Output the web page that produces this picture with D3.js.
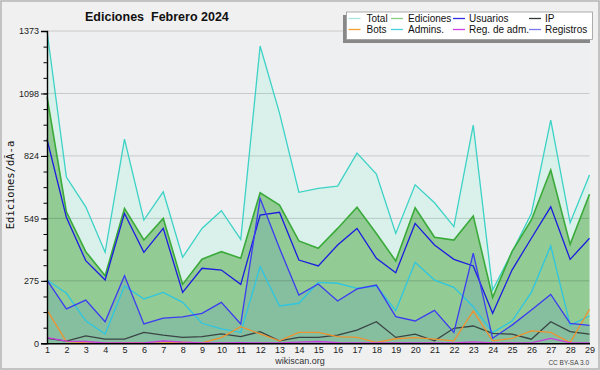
<!DOCTYPE html>
<html>
<head>
<meta charset="utf-8">
<script src="https://cdn.jsdelivr.net/npm/d3@7"></script>
<style>
  body { margin: 0; background: #f0f0f0; }
  text { font-family: "Liberation Sans", Arial, sans-serif; }
</style>
</head>
<body>
<div id="chart"></div>
<script>
// values
const days = [1, 2, 3, 4, 5, 6, 7, 8, 9, 10, 11, 12, 13, 14, 15, 16, 17, 18, 19, 20, 21, 22, 23, 24, 25, 26, 27, 28, 29];
const total = [1373, 731, 600, 400, 898, 542, 666, 378, 505, 583, 457, 1307, 1012, 664, 681, 691, 836, 744, 483, 697, 618, 513, 959, 234, 400, 570, 981, 530, 740];
const ediciones = [1085, 578, 403, 297, 593, 454, 549, 259, 370, 403, 374, 662, 608, 450, 418, 505, 598, 483, 362, 596, 466, 454, 560, 202, 403, 542, 762, 435, 655];
const usuarios = [897, 554, 363, 278, 571, 400, 505, 224, 330, 322, 259, 564, 576, 366, 340, 432, 505, 374, 310, 527, 432, 369, 340, 132, 322, 462, 600, 369, 462];
const registros = [278, 151, 190, 95, 297, 85, 111, 116, 132, 180, 85, 637, 418, 212, 261, 186, 239, 256, 117, 98, 145, 48, 396, 22, 80, 146, 215, 88, 79];
const admins = [278, 220, 99, 41, 252, 195, 224, 180, 88, 63, 48, 337, 164, 176, 268, 264, 242, 252, 143, 356, 278, 246, 161, 47, 98, 224, 428, 80, 120];
const ip = [22, 10, 33, 18, 18, 48, 36, 26, 29, 41, 29, 51, 11, 26, 26, 36, 58, 95, 26, 40, 11, 66, 76, 44, 40, 18, 95, 51, 40];
const bots = [146, 7, 3, 2, 2, 2, 2, 5, 2, 25, 73, 41, 11, 48, 48, 29, 26, 4, 20, 25, 18, 11, 142, 11, 22, 55, 48, 3, 149];
const regAdm = [25, 10, 8, 2, 2, 2, 10, 5, 2, 2, 3, 2, 2, 5, 8, 3, 2, 2, 2, 2, 2, 2, 6, 2, 2, 2, 22, 2, 2];

const yMax = 1373;
const yTicks = [0, 274.6, 549.2, 823.8, 1098.4, 1373];
const yTickLabels = ["0", "275", "549", "824", "1098", "1373"];

const legendRows = [
    ["Total", "Ediciones", "Usuarios", "IP"],
    ["Bots", "Admins.", "Reg. de adm.", "Registros"]
];
const legendColors = [
    ["#a6e6df", "#86d086", "#3030e0", "#303838"],
    ["#f0a030", "#48d0e2", "#d040e0", "#7878f0"]
];

var width = 600, height = 370;
var plotLeft = 47, plotRight = 589.5, plotTop = 31, plotBottom = 343.3;

var svg = d3.select("#chart")
    .append("svg")
    .attr("width", width)
    .attr("height", height);

svg.append("rect")
    .attr("x", 1).attr("y", 1)
    .attr("width", width - 2).attr("height", height - 2)
    .attr("fill", "#f0f0f0")
    .attr("stroke", "#b4b4b4")
    .attr("stroke-width", 1.5);

svg.append("rect")
    .attr("x", plotLeft).attr("y", plotTop)
    .attr("width", plotRight - plotLeft).attr("height", plotBottom - plotTop)
    .attr("fill", "#eeeff1");

var x = d3.scaleLinear().domain([1, 29]).range([plotLeft, plotRight]);
var y = d3.scaleLinear().domain([0, yMax]).range([plotBottom, plotTop]);

function area(vals, fill) {
    svg.append("path")
        .datum(days)
        .attr("fill", fill)
        .attr("d", d3.area()
            .x(function(d) { return x(d); })
            .y0(y(0))
            .y1(function(d, i) { return y(vals[i]); }));
}

function line(vals, color, w) {
    svg.append("path")
        .datum(days)
        .attr("fill", "none")
        .attr("stroke", color)
        .attr("stroke-width", w)
        .attr("d", d3.line()
            .x(function(d) { return x(d); })
            .y(function(d, i) { return y(vals[i]); }));
}

area(total, "#d9f1ea");
area(ediciones, "#92cb94");
area(registros, "#86bea0");

// grid lines sit over the fills
svg.append("g")
    .selectAll("line")
    .data(yTicks.slice(1))
    .enter().append("line")
    .attr("x1", plotLeft).attr("x2", plotRight)
    .attr("y1", function(d) { return y(d); })
    .attr("y2", function(d) { return y(d); })
    .attr("stroke", "rgba(0,0,0,0.16)")
    .attr("stroke-width", 1);

line(total, "#3cd2c6", 1.3);
line(ediciones, "#3aaa3a", 1.6);
line(usuarios, "#1c1ce0", 1.3);
line(admins, "#2ec6e0", 1.3);
line(ip, "#3a4444", 1.3);
line(bots, "#ee9230", 1.3);
line(regAdm, "#c83ce0", 1.3);
line(registros, "#3c3cf0", 1.3);

// axes
var minor = svg.append("g")
    .attr("transform", "translate(" + plotLeft + ",0)")
    .call(d3.axisLeft(y)
        .tickValues(d3.range(0, 21).map(function(i) { return yMax * i / 20; }))
        .tickSize(3.5)
        .tickFormat(""));
minor.select(".domain").remove();

svg.append("g")
    .attr("transform", "translate(" + plotLeft + ",0)")
    .call(d3.axisLeft(y)
        .tickValues(yTicks)
        .tickSize(6)
        .tickPadding(2)
        .tickFormat(function(d, i) { return yTickLabels[i]; }))
    .call(function(g) { g.select(".domain").attr("stroke", "#000").attr("stroke-width", 1.4); })
    .call(function(g) { g.selectAll("text").attr("font-size", 9).attr("fill", "#222")
        .attr("font-family", "Liberation Sans"); });

svg.selectAll(".tick line").attr("stroke", "#000");

svg.append("g")
    .attr("transform", "translate(0," + plotBottom + ")")
    .call(d3.axisBottom(x)
        .tickValues(days)
        .tickSize(0)
        .tickPadding(3)
        .tickFormat(d3.format("d")))
    .call(function(g) { g.select(".domain").attr("stroke", "#000").attr("stroke-width", 1.4); })
    .call(function(g) { g.selectAll("text").attr("font-size", 9).attr("fill", "#222")
        .attr("font-family", "Liberation Sans"); });

// titles
svg.append("text")
    .attr("x", 85).attr("y", 21)
    .attr("font-size", 12.5)
    .attr("font-weight", "bold")
    .attr("fill", "#111")
    .attr("xml:space", "preserve")
    .text("Ediciones  Febrero 2024");

svg.append("text")
    .attr("transform", "translate(14,185) rotate(-90)")
    .attr("text-anchor", "middle")
    .attr("font-size", 10.5)
    .style("font-family", "DejaVu Sans Mono")
    .attr("fill", "#111")
    .text("Ediciones/dÃ-a");

svg.append("text")
    .attr("x", 300).attr("y", 364)
    .attr("text-anchor", "middle")
    .attr("font-size", 9)
    .attr("fill", "#333")
    .text("wikiscan.org");

svg.append("text")
    .attr("x", 589).attr("y", 365)
    .attr("text-anchor", "end")
    .attr("font-size", 6.5)
    .attr("fill", "#444")
    .text("CC BY-SA 3.0");

// legend
var legend = svg.append("g");
legend.append("rect")
    .attr("x", 343).attr("y", 15)
    .attr("width", 247).attr("height", 28)
    .attr("fill", "#888");
legend.append("rect")
    .attr("x", 346.5).attr("y", 12)
    .attr("width", 246).attr("height", 27.5)
    .attr("fill", "#fff")
    .attr("stroke", "#999")
    .attr("stroke-width", 0.8);

var colX = [348.5, 391, 453, 529];
var textX = [366.5, 408, 469, 545];
var rowY = [18.5, 29.5];
legendRows.forEach(function(row, r) {
    row.forEach(function(name, c) {
        legend.append("line")
            .attr("x1", colX[c]).attr("x2", colX[c] + 12)
            .attr("y1", rowY[r]).attr("y2", rowY[r])
            .attr("stroke", legendColors[r][c])
            .attr("stroke-width", 1.3);
        legend.append("text")
            .attr("x", textX[c]).attr("y", rowY[r] + 3.6)
            .attr("font-size", 10)
            .attr("fill", "#111")
            .text(name);
    });
});
</script>
</body>
</html>
